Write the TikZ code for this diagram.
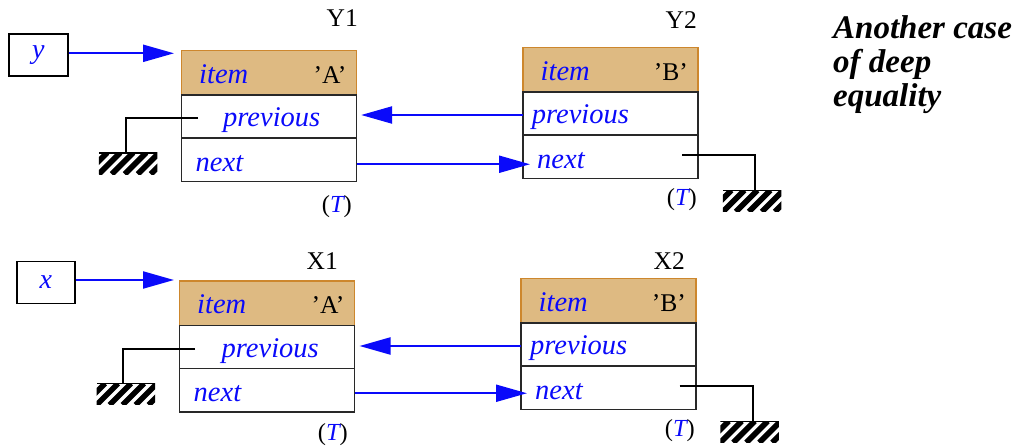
\documentclass[tikz,border=0pt]{standalone}
\usepackage{fontspec}
\setmainfont{Liberation Serif}
\usetikzlibrary{arrows.meta}

\definecolor{fieldblue}{RGB}{10,10,250}
\definecolor{itemfill}{RGB}{222,186,130}
\definecolor{itemedge}{RGB}{205,135,45}
\definecolor{celledge}{RGB}{40,40,40}

\tikzset{
  itemcell/.style={rectangle, inner sep=0pt, outer sep=0pt, minimum width=175pt,
    minimum height=44.5pt, fill=itemfill, draw=itemedge, line width=1.2pt},
  fieldcell/.style={rectangle, inner sep=0pt, outer sep=0pt, minimum width=175pt,
    draw=celledge, line width=1.1pt},
  field/.style={inner sep=0pt, text=fieldblue, font=\fontsize{28.5}{28.5}\selectfont\itshape},
  value/.style={inner sep=0pt, font=\fontsize{25.5}{25.5}\selectfont},
  objname/.style={inner sep=0pt, font=\fontsize{25.5}{25.5}\selectfont},
  typemark/.style={inner sep=0pt, font=\fontsize{24.5}{24.5}\selectfont},
  varbox/.style={rectangle, draw=black, line width=1.8pt, inner sep=0pt,
    minimum width=58.5pt, minimum height=42pt, text=fieldblue,
    font=\fontsize{28}{28}\selectfont\itshape},
  ptr/.style={draw=fieldblue, line width=2.2pt,
    -{Triangle[length=31pt,width=17pt]}},
  wire/.style={draw=black, line width=2pt},
  ground/.style={rectangle, inner sep=0pt, outer sep=0pt,
    minimum width=58.5pt, minimum height=21.5pt,
    path picture={
      \foreach \k in {-2,...,5}
        \draw[line width=5.6pt]
          ([xshift=\k*13pt]path picture bounding box.south west) -- ++(21.5pt,21.5pt);
      \draw[line width=2pt] (path picture bounding box.north west) --
        (path picture bounding box.north east);
    }},
  headline/.style={inner sep=0pt, anchor=base west,
    font=\fontsize{33}{33}\selectfont\bfseries\itshape},
}

% One object record: name, left x, top y, item value, x-offset of "previous"
\newcommand{\objrecord}[5]{%
  \node[itemcell, anchor=north west] (#1-item) at (#2,#3) {};
  \node[fieldcell, minimum height=43pt, anchor=north west] (#1-prev) at (#1-item.south west) {};
  \node[fieldcell, minimum height=43.5pt, anchor=north west] (#1-next) at (#1-prev.south west) {};
  \node[field, anchor=base west] (#1-itemtxt) at ([xshift=17.5pt,yshift=12pt]#1-item.south west) {item};
  \node[value, anchor=base east] (#1-val) at ([xshift=-10pt,yshift=12pt]#1-item.south east) {#4};
  \node[field, anchor=base west] (#1-prevtxt) at ([xshift=#5,yshift=11.5pt]#1-prev.south west) {previous};
  \node[field, anchor=base west] (#1-nexttxt) at ([xshift=14pt,yshift=10.5pt]#1-next.south west) {next};
}

\begin{document}
\begin{tikzpicture}[x=1pt, y=-1pt]
  \useasboundingbox (0,0) rectangle (1026,447);

  % ---- upper pair: y, Y1, Y2 ----
  \objrecord{Y1}{181.5}{50.5}{'A'}{41.5pt}
  \objrecord{Y2}{523}{47.5}{'B'}{8.7pt}
  \node[objname, anchor=base east] (Y1-name) at (358,27) {Y1};
  \node[objname, anchor=base east] (Y2-name) at (697,28.3) {Y2};
  \node[typemark, anchor=base east] (Y1-type) at (352,212) {(\textcolor{fieldblue}{\itshape T})};
  \node[typemark, anchor=base east] (Y2-type) at (697,205) {(\textcolor{fieldblue}{\itshape T})};

  \node[varbox] (yvar) at (38.35,55) {y};
  \draw[ptr] ([yshift=1.7pt]yvar.east) -- ([yshift=1.7pt,xshift=-7.5pt]yvar.east -| Y1-item.west);

  \node[ground] (Y1-gnd) at (128,163.35) {};
  \node[ground] (Y2-gnd) at (752.2,201) {};
  \draw[wire] ([xshift=16.5pt,yshift=-1.5pt]Y1-prev.west) -| ([xshift=-2.3pt]Y1-gnd.north);
  \draw[wire] ([xshift=-16pt,yshift=1.3pt]Y2-next.east) -| ([xshift=2.8pt]Y2-gnd.north);

  \draw[ptr] ([yshift=-1.5pt]Y2-prev.west) -- ([yshift=-1.5pt,xshift=4.7pt]Y2-prev.west -| Y1-prev.east);
  \draw[ptr] ([yshift=-4.5pt]Y1-next.east) -- ([yshift=-4.5pt,xshift=7pt]Y1-next.east -| Y2-next.west);

  % ---- lower pair: x, X1, X2 ----
  \objrecord{X1}{179.5}{281}{'A'}{42pt}
  \objrecord{X2}{521}{278.5}{'B'}{9pt}
  \node[objname, anchor=base east] (X1-name) at (338,269.3) {X1};
  \node[objname, anchor=base east] (X2-name) at (685,269.3) {X2};
  \node[typemark, anchor=base east] (X1-type) at (348,440) {(\textcolor{fieldblue}{\itshape T})};
  \node[typemark, anchor=base east] (X2-type) at (695,436.7) {(\textcolor{fieldblue}{\itshape T})};

  \node[varbox] (xvar) at (45.85,282.5) {x};
  \draw[ptr] ([yshift=2.5pt]xvar.east) -- ([yshift=2.5pt,xshift=-5.5pt]xvar.east -| X1-item.west);

  \node[ground] (X1-gnd) at (125.85,394.15) {};
  \node[ground] (X2-gnd) at (749.5,431.85) {};
  \draw[wire] ([xshift=15.5pt,yshift=-2pt]X1-prev.west) -| ([xshift=-2.5pt]X1-gnd.north);
  \draw[wire] ([xshift=-16.5pt,yshift=1.75pt]X2-next.east) -| ([xshift=3.2pt]X2-gnd.north);

  \draw[ptr] ([yshift=-1.5pt]X2-prev.west) -- ([yshift=-1.5pt,xshift=5pt]X2-prev.west -| X1-prev.east);
  \draw[ptr] ([yshift=-3pt]X1-next.east) -- ([yshift=-3pt,xshift=6pt]X1-next.east -| X2-next.west);

  % ---- caption ----
  \node[headline] (head1) at (833,38) {Another case};
  \node[headline] (head2) at (833,72) {of deep};
  \node[headline] (head3) at (833,106) {equality};
\end{tikzpicture}
\end{document}
